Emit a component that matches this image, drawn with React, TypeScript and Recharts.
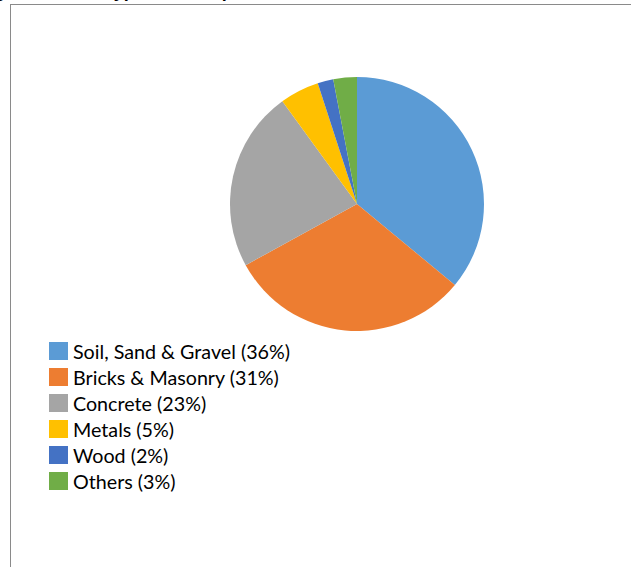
import React from 'react';
import { PieChart, Pie, Cell, Legend } from 'recharts';

const categories = ['Soil, Sand & Gravel', 'Bricks & Masonry', 'Concrete', 'Metals', 'Wood', 'Others'];
const shares = [36, 31, 23, 5, 2, 3];
const colors = ['#5B9BD5', '#ED7D31', '#A5A5A5', '#FFC000', '#4472C4', '#70AD47'];
const titleText = 'Fig 1: Material Types of Composition';

const data = categories.map((name, i) => ({ name, value: shares[i] }));

const renderLegend = () => (
  <div style={{ fontFamily: 'Lato, "Noto Sans", sans-serif', fontSize: 19.7, color: '#000' }}>
    {data.map((d, i) => (
      <div key={d.name} style={{ display: 'flex', alignItems: 'center', height: 26 }}>
        <span style={{ display: 'inline-block', width: 19, height: 18, background: colors[i], marginRight: 5 }} />
        <span>{`${d.name} (${d.value}%)`}</span>
      </div>
    ))}
  </div>
);

export default function App() {
  return (
    <div style={{ position: 'absolute', left: 0, top: 0, width: 631, height: 567, overflow: 'hidden', background: '#fff' }}>
      <div style={{ position: 'absolute', left: 10, top: 4, width: 700, height: 700, border: '1px solid #8a8a8a', boxSizing: 'border-box' }} />
      <div style={{ position: 'absolute', left: -22, top: -19, lineHeight: '21px', fontFamily: '"Liberation Sans", Arial, sans-serif', fontWeight: 'bold', fontSize: 18, whiteSpace: 'nowrap' }}>
        {titleText}
      </div>
      <div style={{ position: 'absolute', left: 0, top: 0 }}>
        <PieChart width={631} height={567} margin={{ top: 0, right: 0, bottom: 0, left: 0 }}>
          <Pie
            data={data}
            dataKey="value"
            nameKey="name"
            cx={357}
            cy={204}
            outerRadius={127}
            startAngle={90}
            endAngle={-270}
            stroke="none"
            isAnimationActive={false}
          >
            {data.map((d, i) => (
              <Cell key={d.name} fill={colors[i]} />
            ))}
          </Pie>
          <Legend
            content={renderLegend}
            layout="vertical"
            wrapperStyle={{ position: 'absolute', left: 49, top: 338, width: 320 }}
          />
        </PieChart>
      </div>
    </div>
  );
}
